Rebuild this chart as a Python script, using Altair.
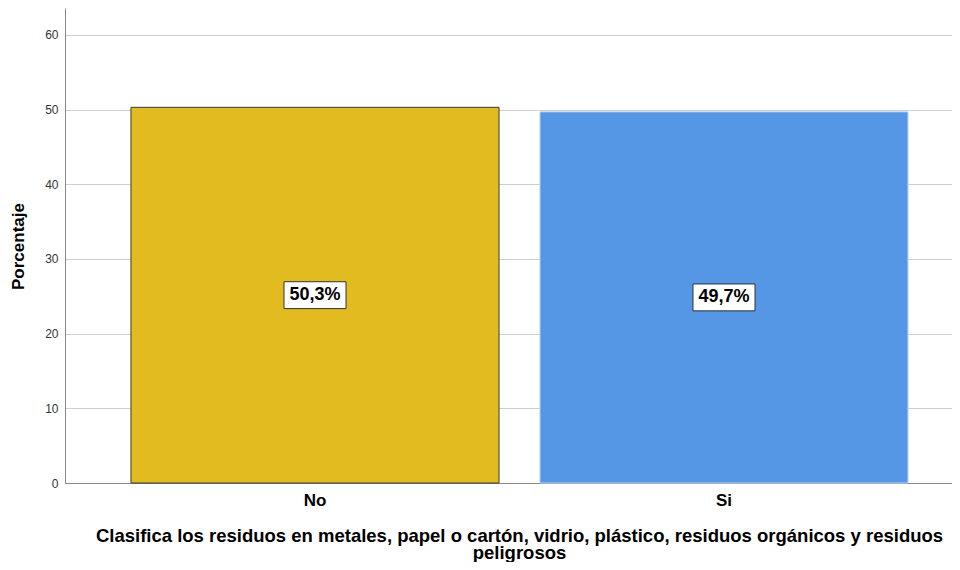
import altair as alt
import pandas as pd

categories = ["No", "Si"]
percentages = [50.3, 49.7]
bar_colors = ["#E1BB1F", "#5596E5"]
edge_colors = ["#3a3a3a", "#c4d9f3"]
y_ticks = [0, 10, 20, 30, 40, 50, 60]
x_title = [
    "Clasifica los residuos en metales, papel o cartón, vidrio, plástico, residuos orgánicos y residuos",
    "peligrosos",
]
y_title = "Porcentaje"

FONT = "Liberation Sans"

df = pd.DataFrame({"cat": categories, "pct": percentages})

x_enc = alt.X(
    "cat:N",
    sort=categories,
    scale=alt.Scale(paddingInner=0.1, paddingOuter=0.1344, align=0.6),
    axis=alt.Axis(
        title=x_title,
        labelAngle=0,
        labelFont=FONT,
        labelFontSize=17,
        labelFontWeight="bold",
        labelColor="#000000",
        labelPadding=9,
        ticks=False,
        grid=False,
        domainColor="#888888",
        titleFont=FONT,
        titleFontSize=18.5,
        titleFontWeight="bold",
        titleColor="#000000",
        titleX=454,
        titleY=58,
        titleAlign="center",
        titleBaseline="alphabetic",
        titleLineHeight=17,
    ),
)

y_scale = alt.Scale(domain=[0, 63.6], nice=False, zero=True)
y_axis = alt.Axis(
    values=y_ticks,
    format="d",
    title=y_title,
    titleX=-47,
    titleY=238,
    titleAngle=270,
    titleAlign="center",
    titleBaseline="middle",
    titleFont=FONT,
    titleFontSize=17,
    titleFontWeight="bold",
    titleColor="#000000",
    labelFont=FONT,
    labelFontSize=12,
    labelColor="#333333",
    labelPadding=7,
    ticks=False,
    domainColor="#888888",
    gridColor="#cfcfcf",
)

base = alt.Chart(df)

bars = base.mark_bar(strokeWidth=1).encode(
    x=x_enc,
    y=alt.Y("pct:Q", scale=y_scale, axis=y_axis),
    fill=alt.Fill("cat:N", scale=alt.Scale(domain=categories, range=bar_colors), legend=None),
    stroke=alt.Stroke("cat:N", scale=alt.Scale(domain=categories, range=edge_colors), legend=None),
)

boxes = base.transform_calculate(
    lo="datum.pct / 2 - 1.8", hi="datum.pct / 2 + 1.8"
).mark_bar(width=62, fill="white", stroke="#333333", strokeWidth=1).encode(
    x=x_enc,
    y=alt.Y("lo:Q", scale=y_scale, axis=y_axis),
    y2="hi:Q",
)

labels = base.transform_calculate(
    mid="datum.pct / 2",
    label="replace(format(datum.pct, '.1f'), '.', ',') + '%'",
).mark_text(
    font=FONT, fontSize=18, fontWeight="bold", color="#000000", baseline="middle", align="center"
).encode(
    x=x_enc,
    y=alt.Y("mid:Q", scale=y_scale, axis=y_axis),
    text="label:N",
)

chart = (
    alt.layer(bars, boxes, labels)
    .properties(
        width=887,
        height=475,
        autosize=alt.AutoSizeParams(type="none"),
        padding={"left": 57, "top": 0, "right": 0, "bottom": 79},
        background="white",
    )
    .configure_view(stroke=None)
)

chart.save("out.html", embed_options={"renderer": "svg", "actions": False})
